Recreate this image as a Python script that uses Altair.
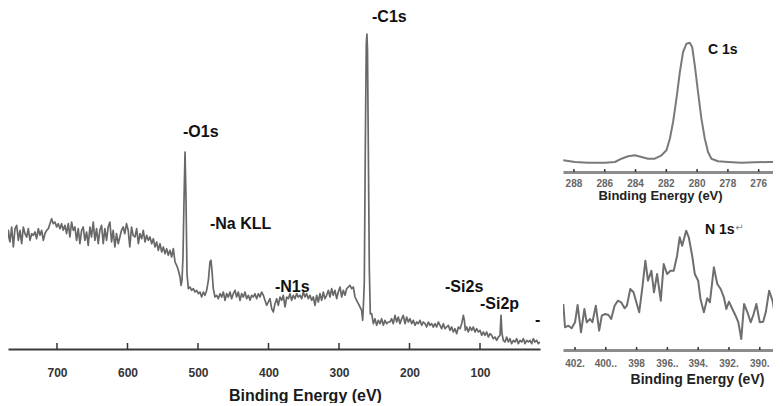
import altair as alt
import pandas as pd

FONT = "Liberation Sans"

# ---------------- survey spectrum (binding energy in eV, intensity in a.u.) ----------------
survey_energy = [
    773.8, 771.4, 769.0, 766.7, 764.3, 761.9, 759.6, 757.2, 754.8, 752.5,
    750.1, 747.8, 745.4, 743.0, 740.7, 738.3, 735.9, 733.6, 731.2, 728.9,
    726.5, 724.1, 721.8, 719.4, 717.1, 714.7, 712.3, 710.0, 707.6, 705.3,
    702.9, 700.5, 698.2, 695.8, 693.5, 691.1, 688.7, 686.4, 684.0, 681.7,
    679.3, 676.9, 674.6, 672.2, 669.9, 667.5, 665.1, 662.8, 660.4, 658.0,
    655.7, 653.3, 651.0, 648.6, 646.2, 643.9, 641.5, 639.2, 636.8, 634.4,
    632.1, 629.7, 627.4, 625.0, 622.6, 620.3, 617.9, 615.6, 613.2, 610.8,
    608.5, 606.1, 603.8, 601.4, 599.0, 596.7, 594.3, 592.0,
    589.4, 587.0, 584.6, 582.3, 579.9, 577.6, 575.2, 572.8, 570.5, 568.1,
    565.7, 563.4, 561.0, 558.6, 556.3, 553.9, 551.5, 549.2, 546.8, 544.5,
    542.1, 539.7, 537.4, 535.0, 532.6, 530.3, 527.9, 525.5, 524.1, 522.7, 521.3,
    519.8, 518.4, 517.0, 515.6,
    513.7, 511.4, 509.0, 506.6, 504.3, 501.9, 499.5, 497.2, 494.8, 492.4,
    490.1, 487.7, 485.3, 483.0, 481.6, 480.2, 478.3, 475.9, 473.5, 471.2,
    468.8, 466.4, 464.1, 461.7, 459.4, 457.0, 454.6, 452.3, 449.9, 447.5,
    445.2, 442.8, 440.4, 438.1, 435.7, 433.3, 431.0, 428.6, 426.2, 423.9,
    421.5, 419.2, 416.8, 414.4, 412.1, 409.7, 407.3,
    405.0, 402.6, 400.3, 397.9, 395.5, 393.2, 390.8, 388.4, 386.1, 383.7,
    381.3, 379.0, 376.6, 374.2, 371.9, 369.5, 367.2, 364.8, 362.4, 360.1,
    357.7, 355.3, 353.0, 350.6, 348.2, 345.9, 343.5, 341.2, 338.8, 336.4,
    334.1, 331.7, 329.3, 327.0, 324.6, 322.2, 319.9, 317.5, 315.1, 312.8,
    310.4, 308.1, 305.7, 303.3, 301.0, 298.6, 296.2, 293.9, 291.5, 289.1,
    286.8, 284.4, 282.1, 279.7, 277.3, 275.0, 272.6, 270.2, 267.9, 266.4,
    265.3, 264.1, 262.7, 261.3, 260.4, 259.6, 258.4, 257.0, 255.6,
    253.7, 251.3, 249.0, 246.6, 244.2, 241.9, 239.5, 237.1, 234.8, 232.4, 230.0,
    227.7, 225.3, 223.0, 220.6, 218.2, 215.9, 213.5, 211.1, 208.8, 206.4,
    204.0, 201.7, 199.3, 196.9, 194.6, 192.2, 189.8, 187.5, 185.1, 182.7,
    180.4, 178.0, 175.7, 173.3, 170.9, 168.6, 166.2, 163.8, 161.5, 159.1,
    156.7, 154.4, 152.0, 149.6, 147.3, 144.9, 142.6, 140.2, 137.8, 135.5,
    133.1, 130.7, 128.4, 126.0, 123.6, 122.2, 120.8, 118.9, 116.6, 114.2,
    111.8, 109.5, 107.1, 104.7, 102.4, 100.0, 97.6, 95.3, 92.9, 90.6,
    88.2, 85.8, 83.5, 81.1, 78.7, 76.4, 74.0, 71.6, 70.2, 68.8,
    66.9, 64.5, 62.2, 59.8, 57.5, 55.1, 52.7, 50.4, 48.0, 45.6,
    43.3, 40.9, 38.5, 36.2, 33.8, 31.4, 29.1, 26.7, 24.4, 22.0,
    19.6, 17.3, 14.9,
]
survey_intensity = [
    112, 102, 118.7, 107, 122, 102, 120.3, 123.7, 108.7, 118.7,
    105.3, 122, 115.3, 112, 120.3, 108.7, 115.3, 113.7, 117, 110.3,
    120.3, 113.7, 118.7, 108.7, 115.3, 118.7, 120.3, 125.3, 130.3, 125.3,
    127, 122, 125.3, 120.3, 125.3, 118.7, 123.7, 115.3, 125.3, 112,
    127, 118.7, 122, 108.7, 120.3, 105.3, 118.7, 122, 108.7, 117,
    103.7, 122, 112, 127, 108.7, 120.3, 105.3, 118.7, 123.7, 105.3,
    120.3, 108.7, 122, 127, 107, 118.7, 102, 115.3, 105.3, 112,
    118.7, 122, 115.3, 125.3, 118.7, 102, 122, 113.7,
    112, 120.3, 105.3, 115.3, 110.3, 118.7, 107, 113.7, 108.7, 112,
    105.3, 110.3, 102, 107, 98.7, 105.3, 97, 102, 95.3, 100.3,
    93.7, 98.7, 92, 100.3, 87, 83.7, 78.7, 72, 63.7, 68.7, 92,
    150, 197, 150, 75,
    60.3, 62, 58.7, 60.3, 57, 58.7, 55.3, 57, 52, 57,
    53.7, 58.7, 68.7, 87, 88.7, 78.7, 60.3, 52, 53.7, 50.3,
    55.3, 52, 57, 48.7, 55.3, 52, 57, 50.3, 55.3, 58.7,
    52, 57, 48.7, 55.3, 52, 57, 50.3, 53.7, 48.7, 53.7,
    52, 55.3, 50.3, 55.3, 52, 57, 53.7,
    48.7, 43.7, 47, 50.3, 40.3, 37, 45.3, 50.3, 43.7, 52,
    48.7, 53.7, 42, 52, 50.3, 55.3, 48.7, 53.7, 50.3, 55.3,
    52, 53.7, 50.3, 57, 52, 55.3, 50.3, 53.7, 48.7, 52,
    43.7, 53.7, 47, 55.3, 48.7, 57, 50.3, 53.7, 58.7, 52,
    60.3, 53.7, 58.7, 50.3, 57, 62, 52, 58.7, 53.7, 60.3,
    62, 63.7, 60.3, 62, 52, 48.7, 45.3, 42, 38.7, 28.7,
    45, 67, 200, 305, 315, 300, 200, 80, 35,
    35.3, 25.3, 30.3, 23.7, 28.7, 25.3, 30.3, 23.7, 28.7, 25.3, 27,
    27, 30.3, 25.3, 33.7, 27, 32, 25.3, 30.3, 33.7, 25.3,
    32, 27, 30.3, 25.3, 28.7, 23.7, 27, 25.3, 28.7, 23.7,
    27, 25.3, 22, 27, 23.7, 25.3, 22, 25.3, 22, 27,
    23.7, 20.3, 25.3, 20.3, 22, 23.7, 18.7, 22, 17, 20.3,
    15.3, 22, 20.3, 25.3, 33.7, 28.7, 18.7, 22, 17, 22,
    18.7, 22, 17, 20.3, 17, 18.7, 13.7, 17, 13.7, 17,
    12, 15.3, 13.7, 10.3, 12, 8.7, 12, 13.7, 33.7, 15.3,
    8.7, 7, 12, 7, 10.3, 5.3, 8.7, 7, 10.3, 5.3,
    8.7, 7, 10.3, 5.3, 8.7, 7, 8.7, 5.3, 10.3, 7,
    8.7, 5.3, 7,
]

survey_ticks = [700, 600, 500, 400, 300, 200, 100]

peak_labels = ["-O1s", "-Na KLL", "-N1s", "-C1s", "-Si2s", "-Si2p", "-"]
peak_label_energy = [521.3, 483.0, 390.8, 253.2, 149.6, 100.0, 22.0]
peak_label_intensity = [217, 125, 62, 332, 62, 45, 29]

# ---------------- C 1s high-resolution ----------------
c1s_energy = [288.69, 287.94, 287.07, 285.99, 285.34, 284.91, 284.48, 284.04, 283.61, 283.18,
              282.75, 282.31, 281.99, 281.77, 281.56, 281.34, 281.12, 280.91, 280.69, 280.48,
              280.32, 280.15, 279.94, 279.72, 279.50, 279.29, 279.07, 278.64, 277.99, 277.12,
              276.26, 275.39, 274.53]
c1s_intensity = [11.7, 10, 9.3, 9.3, 10, 13.3, 15.7, 16.7, 15, 13.3,
                 13.3, 16.7, 21.7, 33.3, 50, 73.3, 100, 120, 128.3, 129.3,
                 125, 106.7, 80, 53.3, 33.3, 20, 13.3, 10.7, 10, 9.3,
                 9.7, 10, 10]
c1s_ticks = [288, 286, 284, 282, 280, 278, 276]
c1s_tick_text = ["288", "286", "284", "282", "280", "278", "276"]

# ---------------- N 1s high-resolution ----------------
n1s_energy = [402.76, 402.65, 402.43, 402.22, 402.00, 401.83, 401.61, 401.39, 401.24, 401.02,
              400.87, 400.65, 400.43, 400.26, 400.04, 399.83, 399.65, 399.43, 399.22, 399.00,
              398.78, 398.63, 398.41, 398.20, 397.83, 397.61, 397.43, 397.26, 397.04, 396.87,
              396.67, 396.43, 396.24, 396.02, 395.80, 395.59, 395.37, 395.20, 395.04, 394.78,
              394.61, 394.39, 394.22, 394.00, 393.85, 393.63, 393.41, 393.24, 392.98, 392.76,
              392.54, 392.33, 392.17, 392.00, 391.78, 391.57, 391.39, 391.20, 391.02, 390.80,
              390.59, 390.43, 390.22, 390.00, 389.78, 389.61, 389.39, 389.17, 389.02, 388.78,
              388.63, 388.52]
n1s_intensity = [46, 22.7, 24.3, 21.7, 27.7, 45, 17.7, 41, 27.7, 31,
                 27.7, 44.3, 19.3, 34.3, 36, 35, 31, 44.3, 49.3, 47.7,
                 41.7, 44.3, 61, 57.7, 37.7, 64.3, 89.3, 69.3, 79.3, 57.7,
                 76, 49.3, 86, 76, 79.3, 79.3, 94.3, 112.7, 104.3, 119.3,
                 112.7, 94.3, 76, 69.3, 51, 37.7, 51.7, 47.7, 82.7, 66,
                 61, 52.7, 41, 48.3, 41, 34.3, 27.7, 11, 46, 37.7,
                 27.7, 34.3, 46, 27.7, 28.3, 37.7, 59.3, 49.3, 36, 42.7,
                 56, 51]
n1s_ticks = [402, 400, 398, 396, 394, 392, 390]
n1s_tick_text = ["402.", "400..", "398", "396..", "394.", "392.", "390."]

inset_labels = ["C 1s", "N 1s"]

# ---------------- tables ----------------
survey_df = pd.DataFrame({"energy": survey_energy, "intensity": survey_intensity})
survey_tick_df = pd.DataFrame({"energy": survey_ticks})
survey_label_df = pd.DataFrame({"energy": peak_label_energy, "intensity": peak_label_intensity,
                                "label": peak_labels})
c1s_df = pd.DataFrame({"energy": c1s_energy, "intensity": c1s_intensity})
c1s_tick_df = pd.DataFrame({"energy": c1s_ticks, "text": c1s_tick_text})
c1s_label_df = pd.DataFrame({"energy": [279.3], "intensity": [122], "label": [inset_labels[0]]})
n1s_df = pd.DataFrame({"energy": n1s_energy, "intensity": n1s_intensity})
n1s_tick_df = pd.DataFrame({"energy": n1s_ticks, "text": n1s_tick_text})
n1s_label_df = pd.DataFrame({"energy": [393.56], "intensity": [120], "label": [inset_labels[1]]})
n1s_mark_df = pd.DataFrame({"energy": [391.6], "intensity": [122], "label": ["\u21b5"]})


def spectrum_panel(df, tick_df, label_df, width, height, xdomain, ydomain, axis,
                   line_color, line_width, tick_len, tick_color, label_size,
                   tick_text_offset=None):
    xs = alt.Scale(domain=xdomain, nice=False, zero=False)
    ys = alt.Scale(domain=ydomain, nice=False)
    line = alt.Chart(df).mark_line(color=line_color, strokeWidth=line_width, clip=True,
                                   strokeJoin="round").encode(
        x=alt.X("energy:Q", scale=xs, axis=axis),
        y=alt.Y("intensity:Q", scale=ys, axis=None),
    )
    ticks = alt.Chart(tick_df).mark_rule(color=tick_color, strokeWidth=1.5).encode(
        x=alt.X("energy:Q", scale=xs),
        y=alt.value(height - tick_len),
        y2=alt.value(height),
    )
    text = alt.Chart(label_df).mark_text(align="left", baseline="middle", font=FONT,
                                         fontSize=label_size, fontWeight="bold",
                                         color="#111111").encode(
        x=alt.X("energy:Q", scale=xs),
        y=alt.Y("intensity:Q", scale=ys),
        text="label:N",
    )
    layers = [line, ticks, text]
    if tick_text_offset is not None:
        tick_text = alt.Chart(tick_df).mark_text(align="center", baseline="middle", font=FONT,
                                                 fontSize=10, fontWeight="bold",
                                                 color="#666666").encode(
            x=alt.X("energy:Q", scale=xs),
            y=alt.value(height + tick_text_offset),
            text="text:N",
        )
        layers.append(tick_text)
    return alt.layer(*layers).properties(width=width, height=height)


main_axis = alt.Axis(values=survey_ticks, format="d", ticks=False, grid=False,
                     labelOverlap=False,
                     domainColor="#3a3a3a", domainWidth=2,
                     labelFont=FONT, labelFontSize=12, labelFontWeight="bold",
                     labelColor="#333333", labelPadding=18,
                     title="Binding Energy (eV)", titleFont=FONT, titleFontSize=16,
                     titleFontWeight="bold", titleColor="#1a1a1a",
                     titleX=297, titleY=46, titleBaseline="middle", titleAlign="center")

main = spectrum_panel(survey_df, survey_tick_df, survey_label_df, 532, 339,
                      [769.5, 14.9], [0, 339], main_axis, "#686868", 1.7, 6,
                      "#333333", 16)

c1s_axis = alt.Axis(values=c1s_ticks, labels=False, ticks=False, grid=False,
                    domainColor="#8c8c8c", domainWidth=3,
                    title="Binding Energy (eV)", titleFont=FONT, titleFontSize=13,
                    titleFontWeight="bold", titleColor="#222222",
                    titleX=97, titleY=23, titleBaseline="middle", titleAlign="center")

c1s = spectrum_panel(c1s_df, c1s_tick_df, c1s_label_df, 210, 162,
                     [288.71, 275.07], [0, 162], c1s_axis, "#7a7a7a", 2, 3,
                     "#333333", 14, tick_text_offset=12)

n1s_axis = alt.Axis(values=n1s_ticks, labels=False, ticks=False, grid=False,
                    domainColor="#8c8c8c", domainWidth=3,
                    title="Binding Energy (eV)", titleFont=FONT, titleFontSize=14,
                    titleFontWeight="bold", titleColor="#222222",
                    titleX=134, titleY=29, titleBaseline="middle", titleAlign="center")

n1s_base = spectrum_panel(n1s_df, n1s_tick_df, n1s_label_df, 210, 126,
                          [402.78, 389.14], [0, 126], n1s_axis, "#6e6e6e", 2, 3,
                          "#333333", 14, tick_text_offset=14)
n1s_mark = alt.Chart(n1s_mark_df).mark_text(align="left", baseline="middle", font="DejaVu Sans",
                                            fontSize=10, color="#888888").encode(
    x=alt.X("energy:Q", scale=alt.Scale(domain=[402.78, 389.14], nice=False, zero=False)),
    y=alt.Y("intensity:Q", scale=alt.Scale(domain=[0, 126], nice=False)),
    text="label:N",
)
n1s = alt.layer(n1s_base, n1s_mark)

chart = alt.hconcat(
    main,
    alt.vconcat(c1s, n1s, spacing=52, bounds="flush"),
    spacing=23,
    bounds="flush",
).properties(padding=0, background="white").configure_view(strokeWidth=0, stroke="transparent")

chart.save("out.html", embed_options={"renderer": "svg", "actions": False})
